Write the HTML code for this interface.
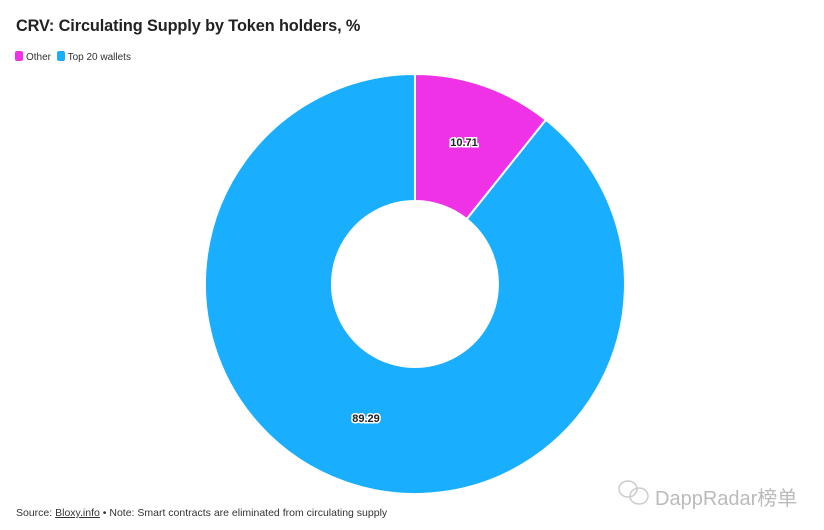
<!DOCTYPE html>
<html><head><meta charset="utf-8"><style>
body{margin:0;width:824px;height:530px;background:#fff;font-family:"Liberation Sans",sans-serif;overflow:hidden;position:relative}
.t{position:absolute;left:16px;top:17px;font-size:16.3px;font-weight:bold;color:#222;letter-spacing:-0.1px}
.lg{position:absolute;left:15px;top:51px;font-size:10px;color:#333}
.lg span.s{display:inline-block;width:8px;height:10px;border-radius:2px;vertical-align:-1px;margin-right:3px}
.src{position:absolute;left:16px;top:507px;font-size:10.5px;color:#333}
.wm{position:absolute;left:655px;top:482px;font-size:20px;color:#bbb;font-family:"Liberation Sans","Noto Sans CJK SC",sans-serif}
</style></head><body>
<div class="t">CRV: Circulating Supply by Token holders, %</div>
<div class="lg"><span class="s" style="background:#f032e6"></span>Other&nbsp;&nbsp;<span class="s" style="background:#1aaeff"></span>Top 20 wallets</div>
<svg width="824" height="530" style="position:absolute;left:0;top:0">
<path d="M415,74 A210,210 0 0 1 545.9,119.8 L466.7,219.1 A83,83 0 0 0 415,201 Z" fill="#f032e6" stroke="#fff" stroke-width="2"/>
<path d="M545.9,119.8 A210,210 0 1 1 415,74 L415,201 A83,83 0 1 0 466.7,219.1 Z" fill="#1aaeff" stroke="#fff" stroke-width="2"/>
<g font-family="Liberation Sans" font-size="11" font-weight="bold" text-anchor="middle" stroke="#fff" stroke-width="3" paint-order="stroke" fill="#222">
<text x="464" y="146">10.71</text>
<text x="366" y="422">89.29</text>
</g>
<g fill="none" stroke="#ccc" stroke-width="1.5"><ellipse cx="628" cy="489" rx="9" ry="8"/><ellipse cx="639" cy="496" rx="9" ry="8"/></g>
</svg>
<div class="wm">DappRadar榜单</div>
<div class="src">Source: <u>Bloxy.info</u> • Note: Smart contracts are eliminated from circulating supply</div>
</body></html>
